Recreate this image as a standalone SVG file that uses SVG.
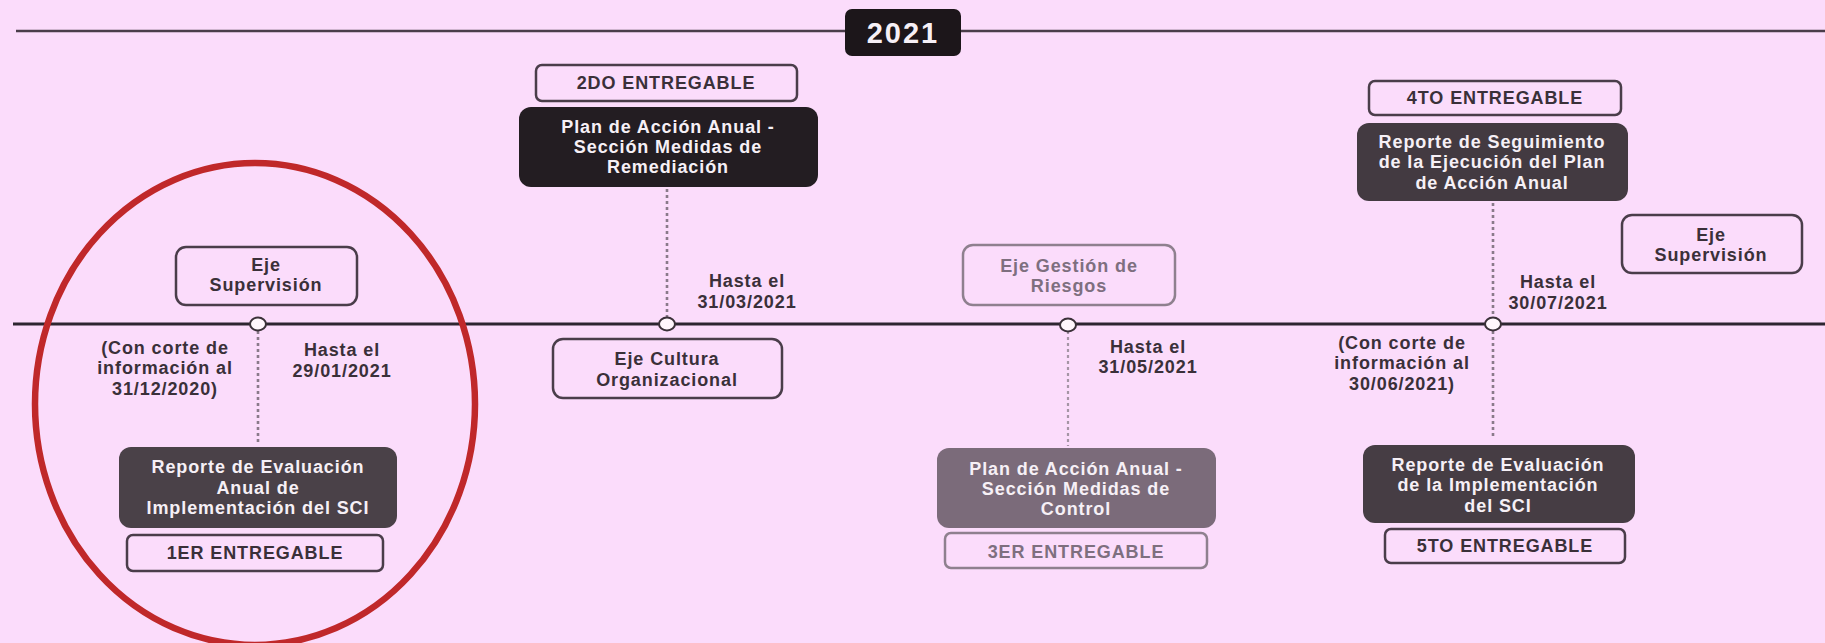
<svg xmlns="http://www.w3.org/2000/svg" width="1825" height="643" viewBox="0 0 1825 643">
<style>
text{font-family:"Liberation Sans",Arial,sans-serif;font-weight:bold;font-size:18px;letter-spacing:0.9px;text-anchor:middle;fill:#3a3039}
.w{fill:#f6f0f6}
.g{fill:#7e6f7f}
.ob{fill:none;stroke:#4a3d4a;stroke-width:2.5}
.obl{fill:none;stroke:#8e808e;stroke-width:2.5}
.dot{stroke:#8a7a8a;stroke-width:2.6;stroke-dasharray:3 3;fill:none}
.dotl{stroke:#a595a5;stroke-width:2.2;stroke-dasharray:3 3;fill:none}
.pt{fill:#fff6fc;stroke:#3a3038;stroke-width:2}
</style>
<rect width="1825" height="643" fill="#fbdcfb"/>

<g id="header">
<line x1="16" y1="31" x2="845" y2="31" stroke="#4a3d4a" stroke-width="2.5"/>
<line x1="961" y1="31" x2="1825" y2="31" stroke="#4a3d4a" stroke-width="2.5"/>
<rect x="845" y="9" width="116" height="47" rx="7" fill="#1c161a"/>
<text x="903" y="43" class="w" style="font-size:29px;letter-spacing:2px">2021</text>
</g>

<g id="connectors">
<line x1="13" y1="324" x2="1825" y2="324" stroke="#2d2530" stroke-width="3"/>
<line class="dot" x1="258" y1="331" x2="258" y2="445"/>
<line class="dot" x1="667" y1="189" x2="667" y2="318"/>
<line class="dotl" x1="1068" y1="331" x2="1068" y2="446"/>
<line class="dot" x1="1493" y1="203" x2="1493" y2="318"/>
<line class="dot" x1="1493" y1="331" x2="1493" y2="437"/>
<ellipse class="pt" cx="258" cy="324" rx="8" ry="6.5"/>
<ellipse class="pt" cx="667" cy="324" rx="8" ry="6.5"/>
<ellipse class="pt" cx="1068" cy="325" rx="8" ry="6.5"/>
<ellipse class="pt" cx="1493" cy="324" rx="8" ry="6.5"/>
</g>

<g id="node1">
<rect class="ob" x="176" y="247" width="181" height="58" rx="10"/>
<text x="266" y="271">Eje</text>
<text x="266" y="291">Supervisión</text>
<text x="165" y="354">(Con corte de</text>
<text x="165" y="374">información al</text>
<text x="165" y="395">31/12/2020)</text>
<text x="342" y="356">Hasta el</text>
<text x="342" y="377">29/01/2021</text>
<rect x="119" y="447" width="278" height="81" rx="12" fill="#4a4148"/>
<text class="w" x="258" y="473">Reporte de Evaluación</text>
<text class="w" x="258" y="494">Anual de</text>
<text class="w" x="258" y="514">Implementación del SCI</text>
<rect class="ob" x="127" y="535" width="256" height="36" rx="6"/>
<text x="255" y="559">1ER ENTREGABLE</text>
</g>

<g id="node2">
<rect class="ob" x="536" y="65" width="261" height="36" rx="6"/>
<text x="666" y="89">2DO ENTREGABLE</text>
<rect x="519" y="107" width="299" height="80" rx="12" fill="#231d22"/>
<text class="w" x="668" y="133">Plan de Acción Anual -</text>
<text class="w" x="668" y="153">Sección Medidas de</text>
<text class="w" x="668" y="173">Remediación</text>
<text x="747" y="287">Hasta el</text>
<text x="747" y="308">31/03/2021</text>
<rect class="ob" x="553" y="339" width="229" height="59" rx="10"/>
<text x="667" y="365">Eje Cultura</text>
<text x="667" y="386">Organizacional</text>
</g>

<g id="node3">
<rect class="obl" x="963" y="245" width="212" height="60" rx="10"/>
<text class="g" x="1069" y="272">Eje Gestión de</text>
<text class="g" x="1069" y="292">Riesgos</text>
<text x="1148" y="353">Hasta el</text>
<text x="1148" y="373">31/05/2021</text>
<rect x="937" y="448" width="279" height="80" rx="12" fill="#7b6b7a"/>
<text class="w" x="1076" y="475">Plan de Acción Anual  -</text>
<text class="w" x="1076" y="495">Sección Medidas de</text>
<text class="w" x="1076" y="515">Control</text>
<rect class="obl" x="945" y="533" width="262" height="35" rx="6"/>
<text class="g" x="1076" y="558">3ER ENTREGABLE</text>
</g>

<g id="node4">
<rect class="ob" x="1369" y="81" width="252" height="34" rx="6"/>
<text x="1495" y="104">4TO ENTREGABLE</text>
<rect x="1357" y="123" width="271" height="78" rx="12" fill="#433a41"/>
<text class="w" x="1492" y="148">Reporte de Seguimiento</text>
<text class="w" x="1492" y="168">de la Ejecución del Plan</text>
<text class="w" x="1492" y="189">de Acción Anual</text>
<text x="1558" y="288">Hasta el</text>
<text x="1558" y="309">30/07/2021</text>
</g>

<g id="node5">
<rect class="ob" x="1622" y="215" width="180" height="58" rx="10"/>
<text x="1711" y="241">Eje</text>
<text x="1711" y="261">Supervisión</text>
</g>

<g id="node6">
<text x="1402" y="349">(Con corte de</text>
<text x="1402" y="369">información al</text>
<text x="1402" y="390">30/06/2021)</text>
<rect x="1363" y="445" width="272" height="78" rx="12" fill="#463d44"/>
<text class="w" x="1498" y="471">Reporte de Evaluación</text>
<text class="w" x="1498" y="491">de la Implementación</text>
<text class="w" x="1498" y="512">del SCI</text>
<rect class="ob" x="1385" y="529" width="240" height="34" rx="6"/>
<text x="1505" y="552">5TO ENTREGABLE</text>
</g>

<g id="highlight">
<ellipse cx="255" cy="404" rx="220" ry="241" fill="none" stroke="#c0282a" stroke-width="6.5"/>
</g>
</svg>
